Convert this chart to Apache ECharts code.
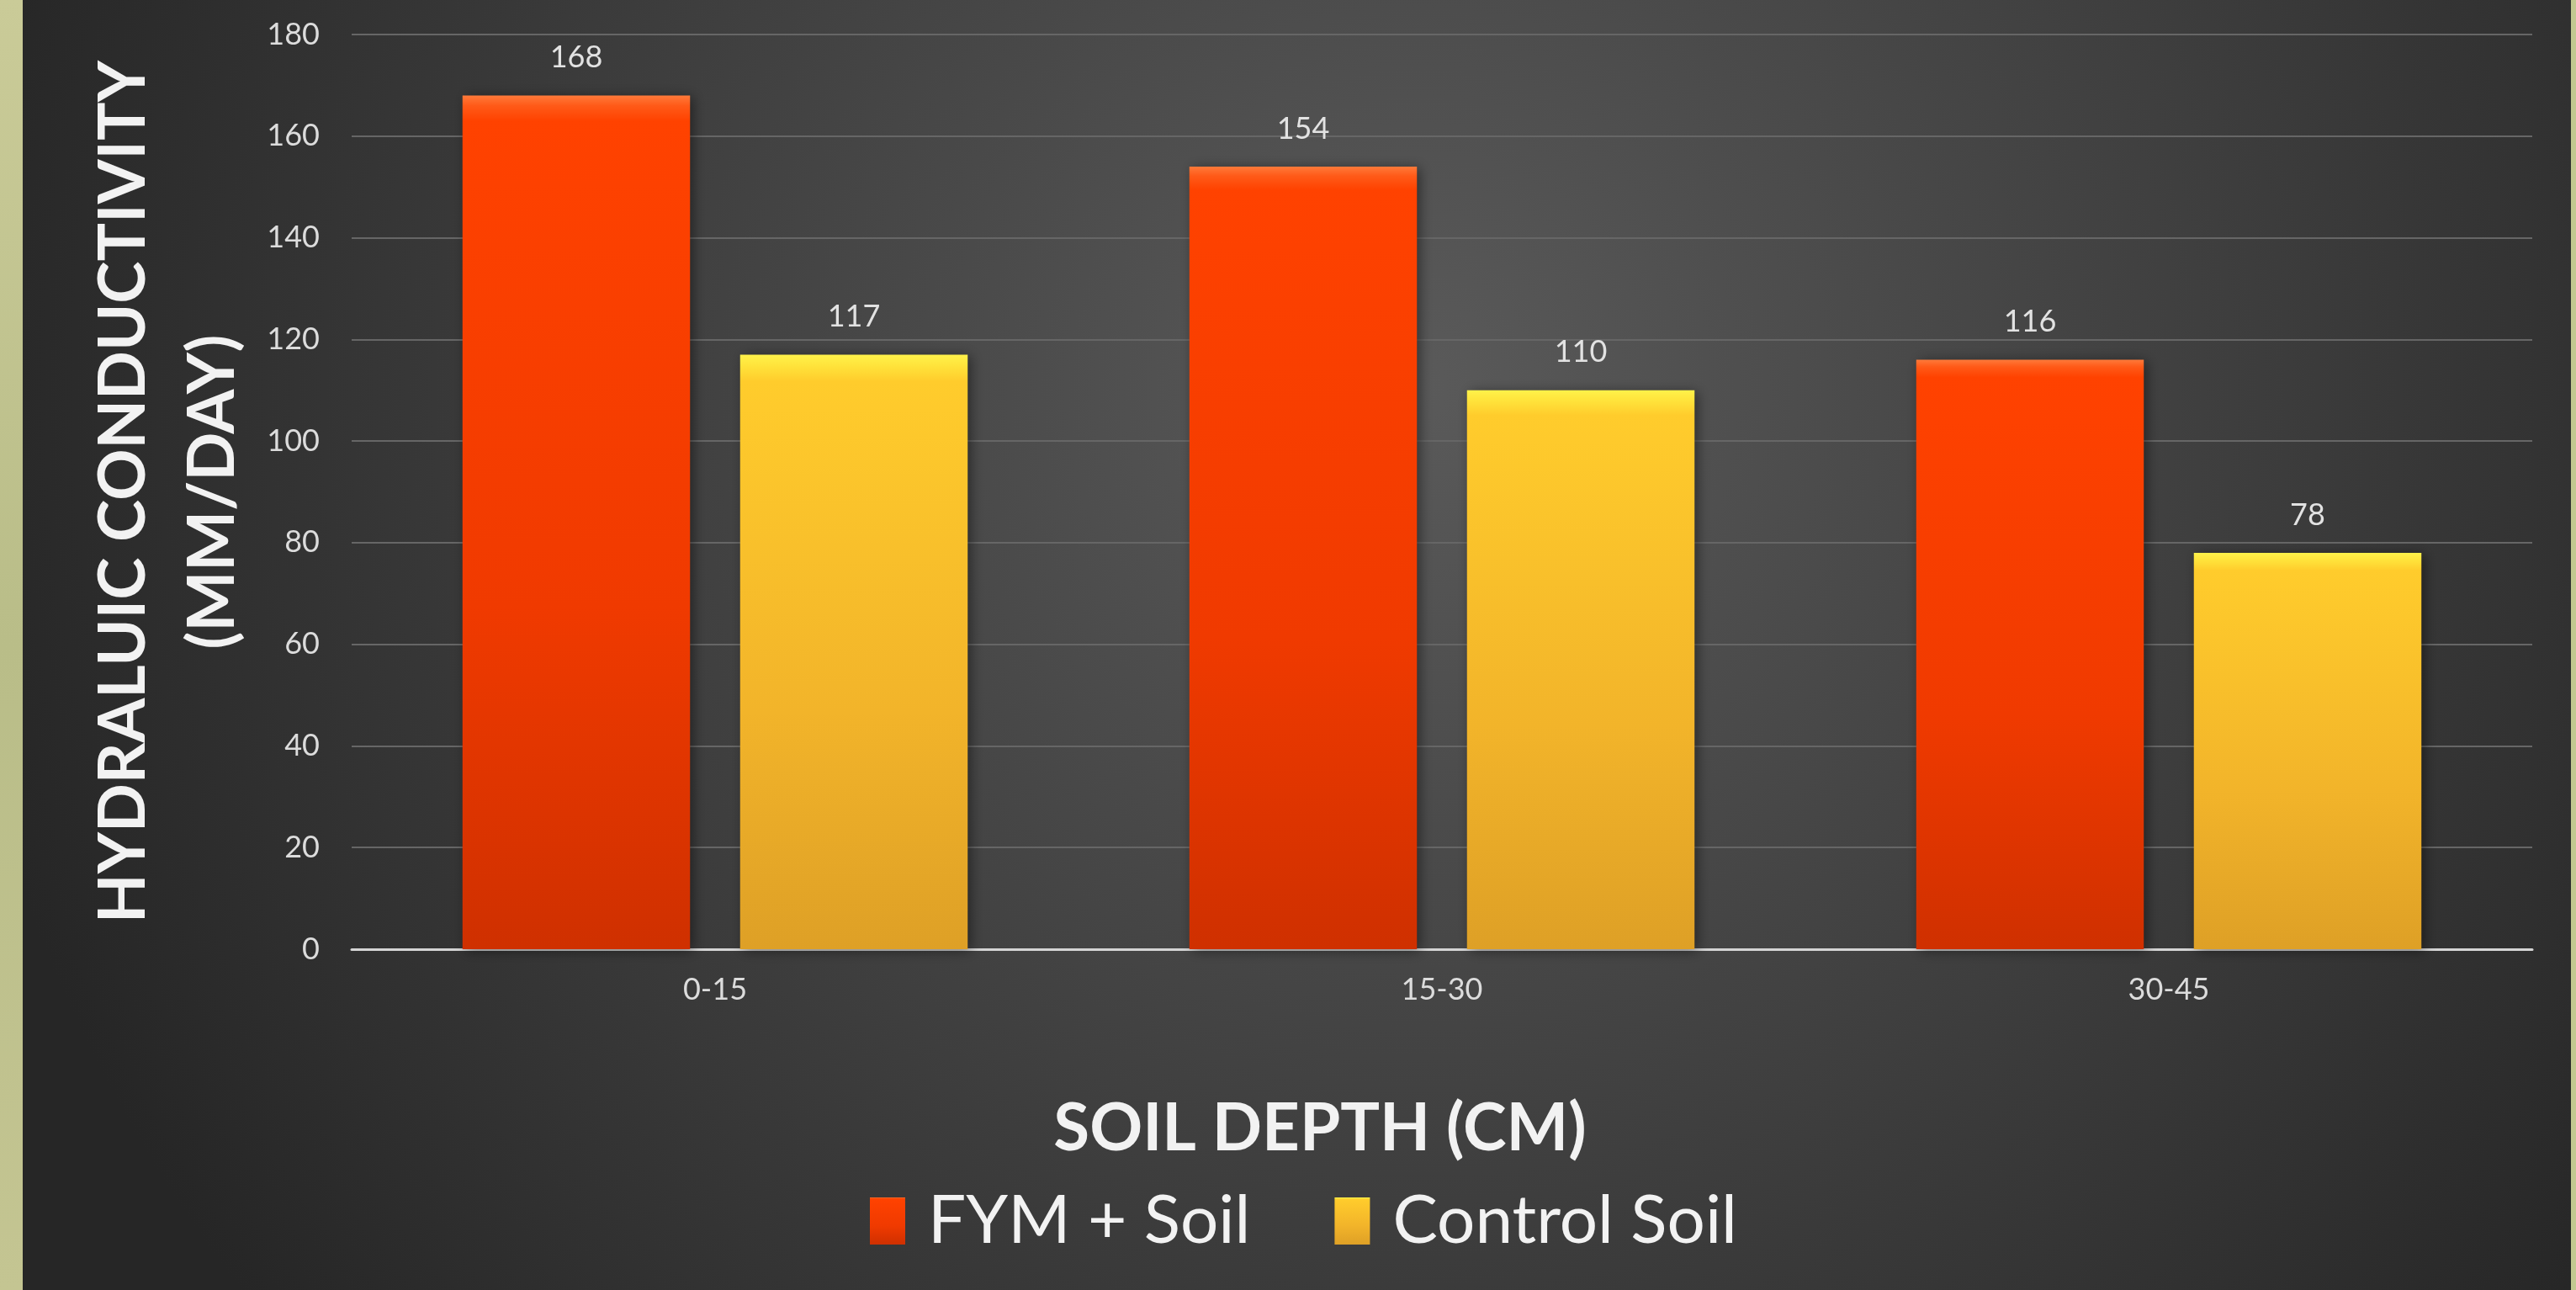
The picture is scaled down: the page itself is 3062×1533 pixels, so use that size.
<!DOCTYPE html>
<html>
<head>
<meta charset="utf-8">
<script src="https://cdn.jsdelivr.net/npm/echarts@6/dist/echarts.min.js"></script>
<style>
html,body{margin:0;padding:0;background:#2a2a2a;}
#chart{width:3062px;height:1533px;}
</style>
</head>
<body>
<div id="chart"></div>
<script>
var categories = ['0-15', '15-30', '30-45'];
var fymSoil = [168, 154, 116];
var controlSoil = [117, 110, 78];
var seriesNames = ['FYM + Soil', 'Control Soil'];
var yTicks = {min: 0, max: 180, interval: 20};
var xTitle = 'SOIL DEPTH (CM)';
var yTitle = 'HYDRALUIC CONDUCTIVITY\n(MM/DAY)';

var chart = echarts.init(document.getElementById('chart'), null, {renderer: 'canvas'});

function vgrad(stops) {
  return new echarts.graphic.LinearGradient(0, 0, 0, 1, stops.map(function (s) { return {offset: s[0], color: s[1]}; }));
}

var fymColor = vgrad([[0, '#ff7a3a'], [0.012, '#ff5a18'], [0.03, '#ff4200'], [0.6, '#f03a00'], [1, '#cf3000']]);
var ctlColor = vgrad([[0, '#fff24a'], [0.02, '#ffe23a'], [0.045, '#ffcc2c'], [0.6, '#f2b42a'], [1, '#dea026']]);

var labelStyle = {
  show: true, position: 'top', distance: 27,
  color: '#e2e2e2', fontFamily: 'Lato', fontSize: 36
};

var option = {
  backgroundColor: {
    type: 'radial', x: 0.55, y: 0.3, r: 1.15,
    colorStops: [{offset: 0, color: '#5a5a5a'}, {offset: 0.55, color: '#3e3e3e'}, {offset: 1, color: '#262626'}]
  },
  textStyle: {fontFamily: 'Lato'},
  title: {
    text: xTitle, left: 1564, top: 1298, textAlign: 'center',
    textStyle: {color: '#f2f2f2', fontFamily: 'Lato', fontWeight: 'bold', fontSize: 78}
  },
  legend: {
    data: seriesNames, left: 1029, top: 1406,
    icon: 'rect', itemWidth: 42, itemHeight: 56, itemGap: 100,
    textStyle: {color: '#f2f2f2', fontFamily: 'Lato', fontSize: 80, padding: [0, 0, 0, 22]}
  },
  grid: {left: 418, right: 52, top: 41, bottom: 405, containLabel: false},
  xAxis: {
    type: 'category', data: categories,
    axisLine: {lineStyle: {color: '#d4d4d4', width: 3}},
    axisTick: {show: false},
    axisLabel: {color: '#dcdcdc', fontFamily: 'Lato', fontSize: 36, margin: 30}
  },
  yAxis: {
    type: 'value', min: yTicks.min, max: yTicks.max, interval: yTicks.interval,
    name: yTitle, nameLocation: 'middle', nameRotate: 90, nameGap: 111,
    nameTextStyle: {color: '#f2f2f2', fontFamily: 'Lato', fontWeight: 'bold', fontSize: 76, lineHeight: 106, align: 'center'},
    axisLine: {show: false},
    axisTick: {show: false},
    axisLabel: {color: '#dcdcdc', fontFamily: 'Lato', fontSize: 36, margin: 38},
    splitLine: {lineStyle: {color: '#666666', width: 2}}
  },
  graphic: [
    {type: 'rect', left: 0, top: 0, z: 100, shape: {width: 27, height: 1533},
     style: {fill: new echarts.graphic.LinearGradient(0, 0, 0, 1, [{offset: 0, color: '#cacb98'}, {offset: 0.5, color: '#b9bd88'}, {offset: 1, color: '#c4c592'}])}},
    {type: 'rect', left: 3056, top: 0, z: 100, shape: {width: 6, height: 1533},
     style: {fill: '#c2c890'}}
  ],
  series: [
    {
      name: seriesNames[0], type: 'bar', data: fymSoil,
      barCategoryGap: '30.5%', barGap: '22%',
      itemStyle: {color: fymColor, shadowColor: 'rgba(0,0,0,0.45)', shadowBlur: 14, shadowOffsetX: 4, shadowOffsetY: 2},
      label: labelStyle
    },
    {
      name: seriesNames[1], type: 'bar', data: controlSoil,
      barCategoryGap: '30.5%', barGap: '22%',
      itemStyle: {color: ctlColor, shadowColor: 'rgba(0,0,0,0.45)', shadowBlur: 14, shadowOffsetX: 4, shadowOffsetY: 2},
      label: labelStyle
    }
  ]
};
chart.setOption(option);
</script>
</body>
</html>
